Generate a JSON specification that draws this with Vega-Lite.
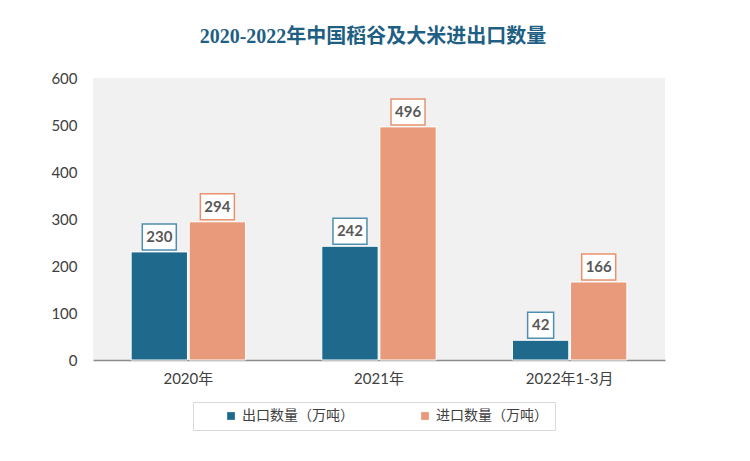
{
  "$schema": "https://vega.github.io/schema/vega-lite/v6.json",
  "width": 572,
  "height": 282,
  "autosize": {"type": "none"},
  "padding": {"left": 93, "top": 78, "right": 85, "bottom": 101},
  "background": "white",
  "title": {
    "text": "2020-2022年中国稻谷及大米进出口数量",
    "font": "Liberation Serif, Noto Sans CJK SC",
    "fontSize": 20,
    "fontWeight": "bold",
    "color": "#1f5f84",
    "anchor": "middle",
    "offset": 24,
    "dx": -6
  },
  "config": {
    "view": {"fill": "#f1f1f1", "stroke": null},
    "font": "Lato, Noto Sans CJK SC"
  },
  "data": {
    "values": [
      {"year": "2020年", "type": "出口数量（万吨）", "value": 230},
      {"year": "2020年", "type": "进口数量（万吨）", "value": 294},
      {"year": "2021年", "type": "出口数量（万吨）", "value": 242},
      {"year": "2021年", "type": "进口数量（万吨）", "value": 496},
      {"year": "2022年1-3月", "type": "出口数量（万吨）", "value": 42},
      {"year": "2022年1-3月", "type": "进口数量（万吨）", "value": 166}
    ]
  },
  "encoding": {
    "x": {
      "field": "year", "type": "nominal", "sort": null,
      "scale": {"paddingInner": 0.4, "paddingOuter": 0.2},
      "axis": {
        "title": null, "labelAngle": 0, "ticks": false,
        "domainColor": "#8c8c8c", "domainWidth": 1.5,
        "labelFontSize": 15, "labelColor": "#404040", "labelPadding": 11,
        "labelFont": "Lato, Noto Sans CJK SC"
      }
    },
    "xOffset": {"field": "type", "type": "nominal", "scale": {"paddingInner": 0.03}},
    "y": {
      "field": "value", "type": "quantitative",
      "scale": {"domain": [0, 600], "nice": false},
      "axis": {
        "title": null, "domain": false, "ticks": false, "grid": false,
        "values": [0, 100, 200, 300, 400, 500, 600],
        "labelFontSize": 15, "labelColor": "#404040", "labelPadding": 16
      }
    }
  },
  "layer": [
    {
      "mark": {"type": "bar", "stroke": "white", "strokeWidth": 1},
      "encoding": {
        "color": {
          "field": "type", "type": "nominal",
          "scale": {"domain": ["出口数量（万吨）", "进口数量（万吨）"], "range": ["#1f6a8c", "#e89a7b"]},
          "legend": {
            "title": null, "orient": "none", "direction": "horizontal",
            "legendX": 100, "legendY": 324,
            "strokeColor": "#d9d9d9", "padding": 7,
            "symbolType": "square", "symbolSize": 60, "symbolOffset": 24,
            "symbolStrokeWidth": 0,
            "labelFontSize": 14, "labelColor": "#404040",
            "labelFont": "Noto Sans CJK SC",
            "columnPadding": 40,
            "labelExpr": "datum.label == '进口数量（万吨）' ? datum.label + '\u00a0\u00a0\u00a0\u00a0\u00a0\u00a0' : datum.label"
          }
        }
      }
    },
    {
      "mark": {"type": "point", "filled": true, "fill": "white", "strokeWidth": 1.5, "opacity": 1},
      "encoding": {
        "shape": {
          "condition": {"test": "datum.value < 100", "value": "M-1.3,-2.8L1.3,-2.8L1.3,-0.2L-1.3,-0.2Z"},
          "value": "M-1.7,-2.8L1.7,-2.8L1.7,-0.2L-1.7,-0.2Z"
        },
        "size": {"value": 400},
        "stroke": {
          "field": "type", "type": "nominal",
          "scale": {"domain": ["出口数量（万吨）", "进口数量（万吨）"], "range": ["#4f8fb0", "#e8926d"]},
          "legend": null
        }
      }
    },
    {
      "mark": {"type": "text", "dy": -15, "baseline": "middle", "fontSize": 15, "fontWeight": "bold", "color": "#595959", "font": "Lato"},
      "encoding": {"text": {"field": "value", "type": "quantitative"}}
    }
  ]
}
